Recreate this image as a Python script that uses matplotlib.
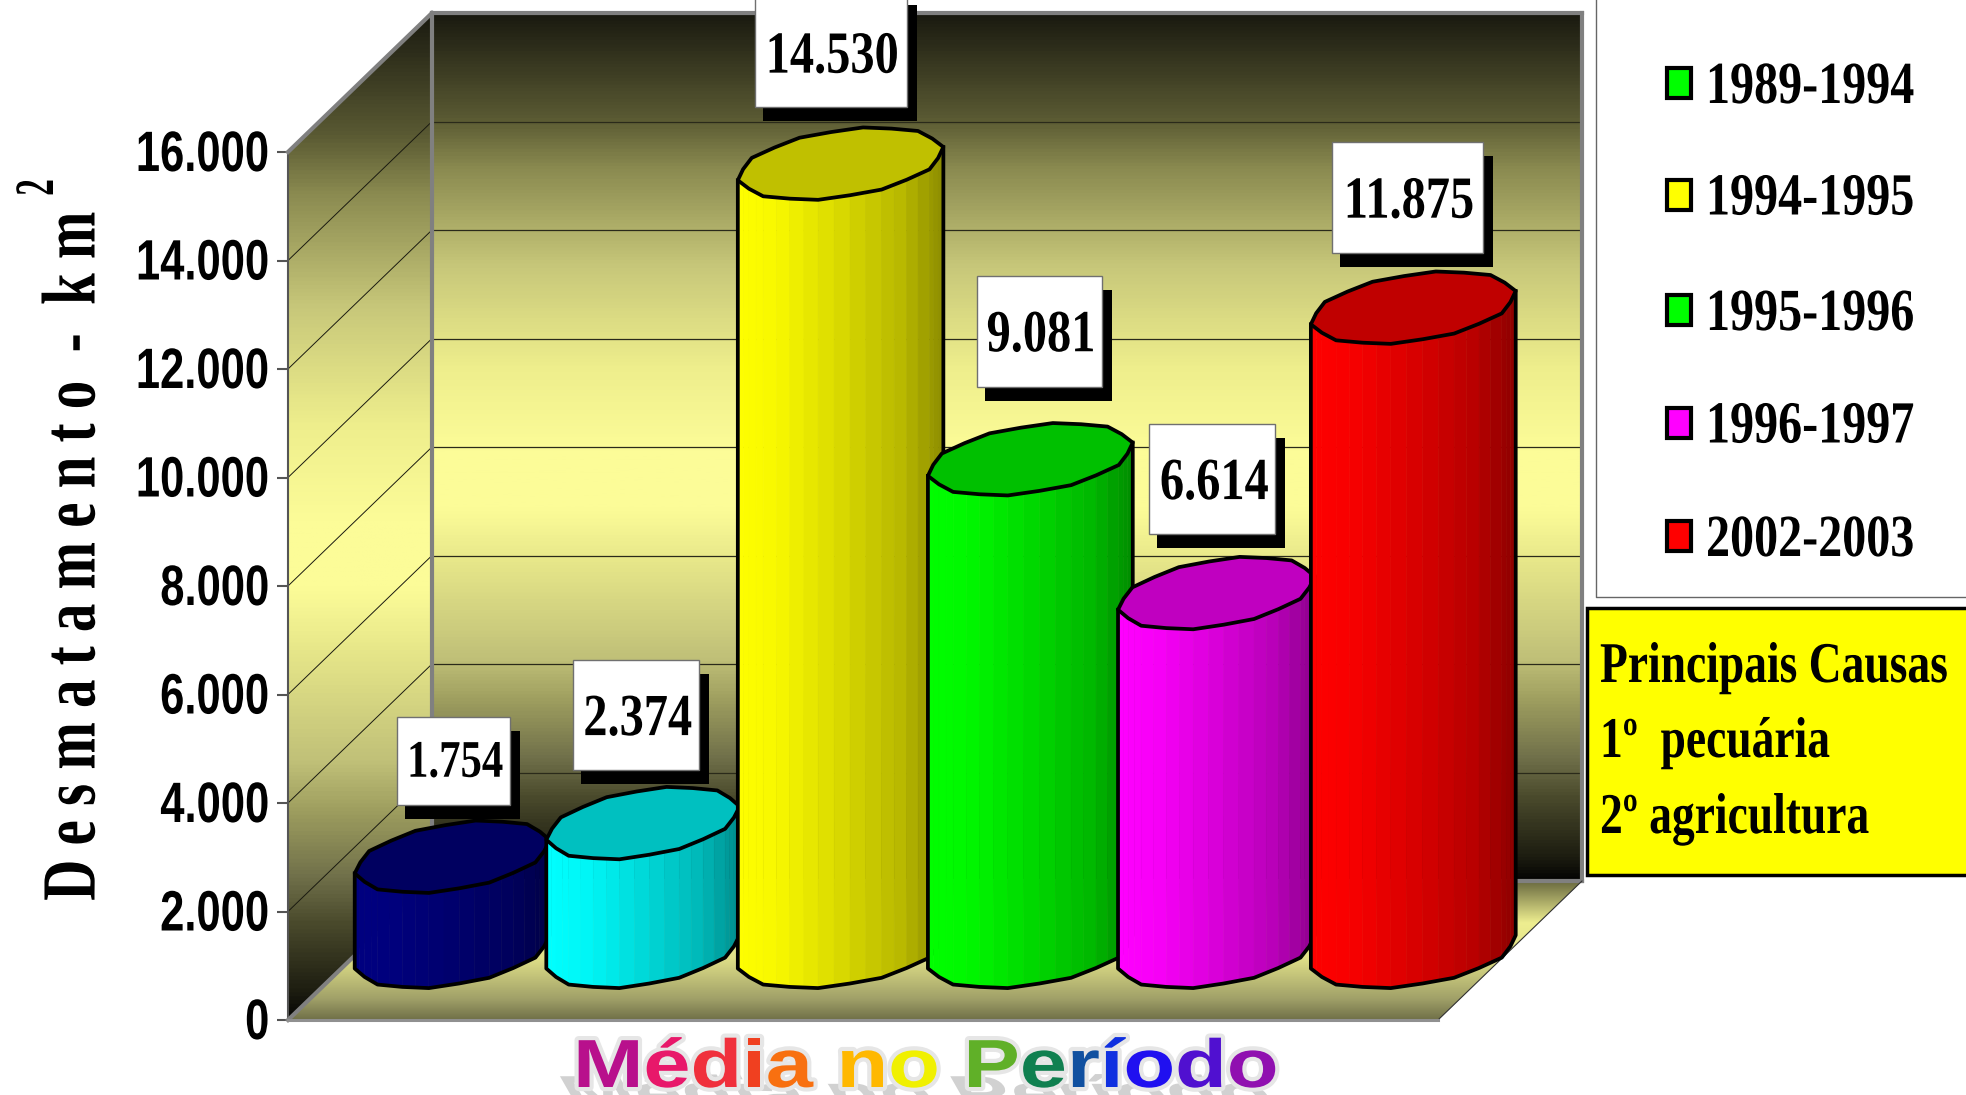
import numpy as np
import matplotlib
matplotlib.use('Agg')
import matplotlib.pyplot as plt
from matplotlib.colors import LinearSegmentedColormap, to_rgb
from matplotlib.patches import Polygon, Rectangle
from matplotlib.patheffects import AbstractPathEffect
from matplotlib.transforms import Affine2D, IdentityTransform
from matplotlib.font_manager import FontProperties

# values
values = [1754, 2374, 14530, 9081, 6614, 11875]
value_labels = ['1.754', '2.374', '14.530', '9.081', '6.614', '11.875']
body_colors = ['#000080', '#00ffff', '#ffff00', '#00ff00', '#ff00ff', '#ff0000']
top_colors = ['#000060', '#00c0c0', '#c0c000', '#00c000', '#c000c0', '#c00000']

y_ticks = [0, 2000, 4000, 6000, 8000, 10000, 12000, 14000, 16000]

legend_labels = ['1989-1994', '1994-1995', '1995-1996', '1996-1997', '2002-2003']
legend_colors = ['#00ff00', '#ffff00', '#00ff00', '#ff00ff', '#ff0000']

causes = ['Principais Causas', '1º  pecuária', '2º agricultura']

title = 'Média no Período'
title_colors = ['#b8108c', '#e8186a', '#f0303c', '#f04020', '#f87010', '#ffffff',
                '#ffb800', '#f0f000', '#ffffff', '#60b028', '#108050', '#1050a0',
                '#1030e0', '#2010f0', '#5010d0', '#9010b0']

# layout of the bars: slightly uneven in the original
bar_pos = [0.489, 1.484, 2.515, 3.505, 4.476, 5.503]
bar_half = [0.462, 0.457, 0.492, 0.490, 0.467, 0.490]
# label boxes, pixels relative to the centre of the bar top
label_dx = [1, -7, -10, 9, -4, -6]
label_dy = [-96, -108, -115, -128, -114, -110]
label_w = [113, 126, 152, 125, 126, 151]
label_h = [88, 110, 116, 111, 110, 111]
label_size = [38, 43, 43, 43, 43, 43]
label_text_dy = [3, 6, 10, 6, 6, 6]

W, H = 1966, 1095
DX = 144 / 191.7     # depth of the box in category units
DY = 139 / 54.25 * 1000   # depth of the box in value units
SERIF = 'Liberation Serif'
SANS = 'Liberation Sans'


class Stretch(AbstractPathEffect):
    # squeeze a text along x or y, with optional halo
    def __init__(self, sx=1, sy=1, anchor='center', stroke=None, strokew=0, up=0):
        self.sx, self.sy, self.anchor = sx, sy, anchor
        self.stroke, self.strokew, self.up = stroke, strokew, up

    def draw_path(self, renderer, gc, tpath, affine, rgbFace=None):
        pts = affine.transform(tpath.vertices)
        if len(pts) == 0:
            return
        x0, x1 = pts[:, 0].min(), pts[:, 0].max()
        y0, y1 = pts[:, 1].min(), pts[:, 1].max()
        cx = {'left': x0, 'right': x1}.get(self.anchor, (x0 + x1) / 2)
        cy = (y0 + y1) / 2
        new = affine + Affine2D().translate(-cx, -cy).scale(self.sx, self.sy).translate(cx, cy + self.up)
        if self.stroke:
            g = renderer.new_gc()
            g.copy_properties(gc)
            g.set_foreground(self.stroke)
            g.set_linewidth(self.strokew)
            renderer.draw_path(g, tpath, new, to_rgb(self.stroke))
            g.restore()
        renderer.draw_path(gc, tpath, new, rgbFace)


class Shadow(AbstractPathEffect):
    # flattened gray cast shadow under the title letters
    def __init__(self, sx, baseline):
        self.sx, self.baseline = sx, baseline

    def draw_path(self, renderer, gc, tpath, affine, rgbFace=None):
        pts = affine.transform(tpath.vertices)
        if len(pts) == 0:
            return
        x0 = pts[:, 0].min()
        b = self.baseline
        m = Affine2D().translate(-x0, -b).scale(self.sx, 1)
        m = m + Affine2D.from_values(1, 0, -0.4, 0.7, 0, 0).translate(x0, b - 22)
        renderer.draw_path(gc, tpath, affine + m, (0.82, 0.82, 0.82))


def fx(x):
    return x / W


def fy(y):
    return 1 - y / H


fig = plt.figure(figsize=(W / 100, H / 100), dpi=100, facecolor='white')
ax = fig.add_axes([fx(288), fy(1020), 1150 / W, 868 / H])
ax.set_facecolor('none')


def proj(x, v, d):
    return x + d * DX, v + d * DY


wall_stops = [(13, '#1a1a10'), (117, '#5a5a33'), (167, '#8a8a50'), (267, '#c8c87a'),
              (367, '#eeee8c'), (450, '#fcfc98'), (510, '#fcfc98'), (560, '#e8e88a'),
              (660, '#c0c078'), (700, '#a0a060'), (760, '#70704a'), (800, '#4a4a2c'),
              (860, '#1c1c10'), (882, '#050503')]
wall_cmap = LinearSegmentedColormap.from_list(
    'wall', [((y - 13) / 869, c) for y, c in wall_stops])
floor_cmap = LinearSegmentedColormap.from_list(
    'floor', [(0, '#6a6a40'), (0.3, '#eeee90'), (0.55, '#e0e088'), (0.85, '#a0a068'), (1, '#707048')])
grad = np.linspace(0, 1, 800).reshape(-1, 1)


def shaded(pts, cmap, extent):
    patch = Polygon(pts, transform=ax.transData)
    im = ax.imshow(grad, cmap=cmap, extent=extent, origin='upper', aspect='auto', zorder=1)
    im.set_clip_box(fig.bbox)
    im.set_clip_path(patch)


top = y_ticks[-1]
# back wall, side wall, floor
shaded([proj(0, 0, 1), proj(6, 0, 1), proj(6, top, 1), proj(0, top, 1)], wall_cmap,
       [DX, 6 + DX, DY, top + DY])
shaded([proj(0, 0, 0), proj(0, 0, 1), proj(0, top, 1), proj(0, top, 0)], wall_cmap,
       [0, DX, 0, top + DY])
shaded([proj(0, 0, 0), proj(6, 0, 0), proj(6, 0, 1), proj(0, 0, 1)], floor_cmap,
       [0, 6 + DX, 0, DY])

# grid lines
for v in y_ticks[1:-1]:
    ax.plot(*zip(proj(0, v, 1), proj(6, v, 1)), color='#2a2a1a', lw=0.9, zorder=2, clip_on=False)
    ax.plot(*zip(proj(0, v, 0), proj(0, v, 1)), color='#1a1a10', lw=0.7, zorder=2, clip_on=False)

# frame of the box
frame = [[proj(0, 0, 1), proj(0, top, 1)],
         [proj(0, top, 1), proj(6, top, 1)],
         [proj(6, top, 1), proj(6, 0, 1)],
         [proj(0, 0, 1), proj(6, 0, 1)],
         [proj(0, top, 0), proj(0, top, 1)],
         [proj(0, 0, 0), proj(0, 0, 1)]]
for seg in frame:
    ax.plot(*zip(*seg), color='#808080', lw=3, zorder=3, clip_on=False, solid_capstyle='projecting')
ax.plot(*zip(proj(6, 0, 0), proj(6, 0, 1)), color='#303030', lw=0.8, zorder=3, clip_on=False)
ax.plot([0, 6], [0, 0], color='#909090', lw=2.2, zorder=3, clip_on=False)

ax.set_xlim(0, 6)
ax.set_ylim(0, top)
ax.set_xticks([])
ax.set_yticks(y_ticks)
ax.set_yticklabels([f'{v:,}'.replace(',', '.') for v in y_ticks],
                   fontfamily=SANS, fontweight='bold', fontsize=41)
ax.tick_params(axis='y', length=8, width=1.5, color='#555555', pad=5)
for lab in ax.get_yticklabels():
    lab.set_path_effects([Stretch(sx=0.765, anchor='right', up=2)])
for name, sp in ax.spines.items():
    sp.set_visible(name == 'left')
ax.spines['left'].set_color('#555555')
ax.spines['left'].set_linewidth(1.5)

# cylinders, painted left to right so each covers the one before
R = 0.259     # radius along the depth direction
BASE = 0.49
SIDES = 20
# faceted outline with a shallow scallop, flat at front and back
tt = np.pi / 2 + (np.arange(SIDES) + 0.5) * 2 * np.pi / SIDES
scallop = np.where(np.arange(SIDES) % 2 == 0, 1.018, 0.985)

for i, v in enumerate(values):
    xc, a = bar_pos[i], bar_half[i]

    def ring(val):
        return proj(xc + a * scallop * np.cos(tt), val, BASE + R * scallop * np.sin(tt))

    ex, ey = ring(0)
    il, ir = int(np.argmin(ex)), int(np.argmax(ex))
    # walk round the front of the ring from leftmost to rightmost point
    idx = [il]
    while idx[-1] != ir:
        idx.append((idx[-1] + 1) % SIDES)
    bx, by = ex[idx], ey[idx]
    _, ty = ring(v)
    ty = ty[idx]
    # two colour strips per facet
    pos = np.arange(len(bx))
    fine = np.linspace(0, len(bx) - 1, 2 * len(bx) - 1)
    fx_, fy_, ft_ = np.interp(fine, pos, bx), np.interp(fine, pos, by), np.interp(fine, pos, ty)
    u = (fx_ - fx_.min()) / (fx_.max() - fx_.min())
    zo = 4 + i * 0.1
    col = np.array(to_rgb(body_colors[i]))
    for k in range(len(fine) - 1):
        um = (u[k] + u[k + 1]) / 2
        shade = np.interp(um, [0, 0.2, 0.5, 0.8, 1], [1.0, 0.97, 0.85, 0.72, 0.55])
        ax.fill([fx_[k], fx_[k + 1], fx_[k + 1], fx_[k]], [fy_[k], fy_[k + 1], ft_[k + 1], ft_[k]],
                color=col * shade, lw=0.4, zorder=zo, clip_on=False)
    ox = np.r_[bx[0], bx, bx[-1]]
    oy = np.r_[ty[0], by, ty[-1]]
    ax.plot(ox, oy, color='black', lw=2.7, zorder=zo + 0.02, clip_on=False, solid_joinstyle='round')
    tx, tvy = ring(v)
    ax.fill(tx, tvy, facecolor=top_colors[i], edgecolor='black', lw=2.7, zorder=zo + 0.03,
            clip_on=False, joinstyle='round')

# value labels in boxes with a hard shadow
ident = IdentityTransform()
for i, v in enumerate(values):
    cx, cy = ax.transData.transform(proj(bar_pos[i], v, BASE))
    bx = cx + label_dx[i]
    by = cy - label_dy[i]
    w, h = label_w[i], label_h[i]
    ax.add_patch(Rectangle((bx - w / 2 + 8, by - h / 2 - 14), w + 2, h, transform=ident,
                           facecolor='black', edgecolor='none', zorder=6, clip_on=False))
    ax.add_patch(Rectangle((bx - w / 2, by - h / 2), w, h, transform=ident,
                           facecolor='white', edgecolor='#707070', lw=1, zorder=6.1, clip_on=False))
    ax.text(bx + 2, by - label_text_dy[i], value_labels[i], transform=ident, ha='center', va='center',
            zorder=6.2, family=SERIF, weight='bold', fontsize=label_size[i], clip_on=False,
            path_effects=[Stretch(sx=0.81)])

# y axis title, letter spaced
ax.text(fx(76), fy(556), 'D e s m a t a m e n t o  -  k m', transform=fig.transFigure,
        rotation=90, ha='center', va='center', family=SERIF, weight='bold', fontsize=55,
        color='black', path_effects=[Stretch(sy=0.745)])
ax.text(fx(39), fy(187), '2', transform=fig.transFigure, rotation=90, ha='center', va='center',
        family=SERIF, weight='bold', fontsize=40, path_effects=[Stretch(sy=0.6)])

# legend panel, runs off the top and right edge
fig.add_artist(plt.Line2D([fx(1596), fx(1596), 1], [1, fy(597), fy(597)], color='#666666', lw=1))
legend_y = [83, 194.5, 310, 422.5, 536]
for y, lab, c in zip(legend_y, legend_labels, legend_colors):
    fig.add_artist(Rectangle((fx(1667), fy(y + 15)), 24 / W, 30 / H, transform=fig.transFigure,
                             facecolor=c, edgecolor='black', lw=3))
    fig.text(fx(1706), fy(y + 20), lab, ha='left', va='baseline', family=SERIF, weight='bold',
             fontsize=43, path_effects=[Stretch(sx=0.805, anchor='left')])

# yellow causes box
fig.add_artist(Rectangle((fx(1587), fy(875)), 400 / W, 267 / H, transform=fig.transFigure,
                         facecolor='#ffff00', edgecolor='black', lw=2.5))
for y, line in zip([682, 757, 833], causes):
    fig.text(fx(1600), fy(y), line, ha='left', va='baseline', family=SERIF, weight='bold',
             fontsize=41.5, path_effects=[Stretch(sx=0.79, anchor='left')])

# rainbow title, one text per letter
renderer = fig.canvas.get_renderer()
prop = FontProperties(family=SANS, weight='bold', size=49)
TS = 1.245
base_px = H - 1087


def advance(s):
    return renderer.get_text_width_height_descent(s + 'x', prop, False)[0] - \
        renderer.get_text_width_height_descent('x', prop, False)[0]


for k, ch in enumerate(title):
    if ch == ' ':
        continue
    x = 573 + advance(title[:k]) * TS
    fig.text(fx(x), fy(1087), ch, ha='left', va='baseline', fontproperties=prop, color=title_colors[k],
             path_effects=[Shadow(TS, base_px)], zorder=5)
for k, ch in enumerate(title):
    if ch == ' ':
        continue
    x = 573 + advance(title[:k]) * TS
    fig.text(fx(x), fy(1087), ch, ha='left', va='baseline', fontproperties=prop, color=title_colors[k],
             path_effects=[Stretch(sx=TS, anchor='left', stroke='#e6e6e6', strokew=6)], zorder=6)

fig.savefig('out.png', dpi=100)
